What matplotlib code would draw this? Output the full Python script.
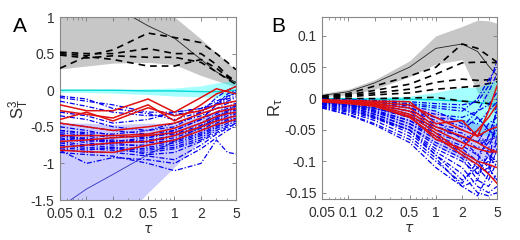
import matplotlib
matplotlib.use("Agg")
import matplotlib.pyplot as plt
import numpy as np
from matplotlib.ticker import FixedLocator, NullFormatter, LogLocator

plt.rcParams['font.family'] = ['Liberation Sans', 'DejaVu Sans']

tau = [0.05, 0.1, 0.2, 0.5, 1, 2, 3, 4, 5]
xticks = [0.05, 0.1, 0.2, 0.5, 1, 2, 5]
xticklabels = ['0.05', '0.1', '0.2', '0.5', '1', '2', '5']

# ---------------- Panel A data ----------------
A_gray_hi = [1.6, 1.5, 1.4, 1.2, 1.0, 0.70, 0.51, 0.38, 0.27]
A_gray_lo = [0.29, 0.33, 0.37, 0.38, 0.35, 0.20, 0.13, 0.08, 0.05]
A_black_solid = [1.6, 1.4, 1.15, 0.88, 0.71, 0.42, 0.25, 0.16, 0.11]
A_black_dash = [
    [0.50, 0.47, 0.55, 0.78, 0.72, 0.65, 0.50, 0.38, 0.28],
    [0.52, 0.50, 0.50, 0.57, 0.50, 0.50, 0.35, 0.20, 0.12],
    [0.30, 0.46, 0.42, 0.33, 0.33, 0.42, 0.30, 0.18, 0.10],
    [0.48, 0.44, 0.47, 0.45, 0.45, 0.38, 0.25, 0.15, 0.08],
]
A_cyan_line = [0.0, 0.0, 0.0, -0.01, -0.01, -0.02, -0.02, -0.01, 0.0]
A_cyan_hi = [0.01, 0.01, 0.01, 0.02, 0.03, 0.06, 0.10, 0.12, 0.14]
A_cyan_lo = [-0.03, -0.03, -0.04, -0.06, -0.08, -0.09, -0.10, -0.08, -0.05]
A_lav_hi = [-0.45, -0.45, -0.47, -0.45, -0.45, -0.35, -0.28, -0.22, -0.20]
A_lav_lo = [-2.5, -2.2, -1.9, -1.4, -1.05, -0.68, -0.55, -0.48, -0.42]
A_blue_solid = [-1.6, -1.35, -1.15, -0.88, -0.70, -0.50, -0.38, -0.28, -0.20]
A_blue = [
    [-0.10, -0.15, -0.20, -0.30, -0.30, -0.25, -0.15, -0.08, -0.05],
    [-0.15, -0.22, -0.30, -0.35, -0.33, -0.28, -0.20, -0.12, -0.08],
    [-0.30, -0.35, -0.45, -0.40, -0.30, -0.25, -0.20, -0.15, -0.10],
    [-0.35, -0.40, -0.50, -0.55, -0.45, -0.35, -0.25, -0.18, -0.15],
    [-0.45, -0.50, -0.55, -0.60, -0.55, -0.40, -0.30, -0.22, -0.18],
    [-0.50, -0.55, -0.62, -0.65, -0.58, -0.45, -0.32, -0.25, -0.20],
    [-0.55, -0.60, -0.65, -0.62, -0.60, -0.48, -0.35, -0.28, -0.22],
    [-0.58, -0.62, -0.70, -0.68, -0.62, -0.50, -0.38, -0.30, -0.25],
    [-0.60, -0.68, -0.72, -0.70, -0.65, -0.52, -0.40, -0.32, -0.27],
    [-0.62, -0.70, -0.68, -0.72, -0.68, -0.55, -0.42, -0.35, -0.30],
    [-0.65, -0.72, -0.75, -0.75, -0.70, -0.58, -0.45, -0.38, -0.32],
    [-0.68, -0.65, -0.72, -0.78, -0.72, -0.60, -0.48, -0.40, -0.35],
    [-0.70, -0.75, -0.78, -0.80, -0.75, -0.62, -0.50, -0.42, -0.38],
    [-0.72, -0.78, -0.80, -0.82, -0.78, -0.65, -0.52, -0.45, -0.40],
    [-0.75, -0.80, -0.82, -0.85, -0.80, -0.68, -0.55, -0.48, -0.42],
    [-0.78, -0.82, -0.78, -0.88, -0.85, -0.70, -0.58, -0.50, -0.45],
    [-0.80, -0.85, -0.85, -0.90, -0.95, -0.75, -0.60, -0.52, -0.45],
    [-0.82, -1.00, -0.92, -0.95, -1.00, -0.80, -0.65, -0.55, -0.48],
    [-0.85, -0.88, -0.90, -1.00, -1.10, -1.00, -0.68, -0.85, -0.87],
    [-0.55, -0.58, -0.60, -0.55, -0.50, -0.30, -0.10, 0.00, 0.05],
    [-0.62, -0.66, -0.70, -0.65, -0.55, -0.40, -0.20, -0.05, 0.00],
    [-0.08, -0.12, -0.25, -0.32, -0.40, -0.30, -0.18, -0.10, -0.02],
]
A_red = [
    [-0.20, -0.28, -0.28, -0.12, -0.30, -0.10, 0.02, -0.02, -0.05],
    [-0.28, -0.33, -0.38, -0.20, -0.42, -0.20, -0.05, 0.00, 0.05],
    [-0.40, -0.30, -0.42, -0.24, -0.35, -0.28, -0.20, -0.17, -0.15],
    [-0.45, -0.50, -0.55, -0.50, -0.45, -0.32, -0.25, -0.22, -0.20],
    [-0.62, -0.62, -0.62, -0.60, -0.52, -0.38, -0.30, -0.27, -0.25],
    [-0.70, -0.68, -0.65, -0.62, -0.58, -0.45, -0.36, -0.32, -0.30],
    [-0.78, -0.75, -0.72, -0.70, -0.62, -0.50, -0.42, -0.38, -0.35],
    [-0.82, -0.84, -0.85, -0.75, -0.68, -0.55, -0.47, -0.43, -0.40],
]
A_yticks = [-1.5, -1, -0.5, 0, 0.5, 1]
A_yticklabels = ['-1.5', '-1', '-0.5', '0', '0.5', '1']

# ---------------- Panel B data ----------------
B_gray_hi = [0.008, 0.015, 0.030, 0.060, 0.100, 0.115, 0.125, 0.124, 0.120]
B_gray_lo = [0.003, 0.006, 0.015, 0.035, 0.055, 0.062, 0.010, -0.015, -0.025]
B_black_solid = [0.005, 0.011, 0.025, 0.050, 0.080, 0.087, 0.075, 0.052, 0.037]
B_black_dash = [
    [0.004, 0.008, 0.020, 0.036, 0.050, 0.087, 0.080, 0.068, 0.058],
    [0.003, 0.006, 0.013, 0.023, 0.039, 0.057, 0.058, 0.058, 0.057],
    [0.002, 0.005, 0.009, 0.015, 0.026, 0.031, 0.029, 0.030, 0.031],
    [0.001, 0.003, 0.006, 0.009, 0.015, 0.018, 0.020, 0.024, 0.027],
    [0.000, 0.000, 0.000, 0.001, 0.002, -0.004, -0.006, -0.008, -0.009],
]
B_cyan_line = [0.0, 0.0, -0.001, -0.001, -0.002, -0.004, -0.006, -0.008, -0.009]
B_cyan_hi = [0.000, 0.001, 0.002, 0.004, 0.010, 0.018, 0.018, 0.024, 0.030]
B_cyan_lo = [-0.003, -0.005, -0.007, -0.010, -0.020, -0.040, -0.055, -0.060, -0.060]
B_lav_hi = [-0.002, -0.004, -0.006, -0.010, -0.020, -0.035, -0.040, -0.040, -0.040]
B_lav_lo = [-0.012, -0.020, -0.030, -0.050, -0.075, -0.098, -0.100, -0.095, -0.085]
B_blue_solid = [-0.006, -0.010, -0.016, -0.028, -0.045, -0.062, -0.068, -0.066, -0.062]
B_blue = [
    [-0.001, -0.002, -0.003, -0.005, -0.008, -0.010, -0.005, 0.020, 0.060],
    [-0.002, -0.003, -0.005, -0.010, -0.015, -0.020, 0.000, 0.030, 0.050],
    [-0.002, -0.004, -0.008, -0.015, -0.025, -0.030, -0.020, -0.010, 0.010],
    [-0.003, -0.005, -0.010, -0.020, -0.030, -0.035, -0.040, -0.020, -0.005],
    [-0.003, -0.006, -0.012, -0.025, -0.040, -0.050, -0.030, -0.050, -0.060],
    [-0.004, -0.007, -0.015, -0.030, -0.045, -0.055, -0.070, -0.040, -0.030],
    [-0.004, -0.008, -0.015, -0.030, -0.050, -0.060, -0.080, -0.060, -0.020],
    [-0.005, -0.009, -0.018, -0.035, -0.055, -0.070, -0.050, -0.080, -0.090],
    [-0.005, -0.010, -0.020, -0.035, -0.060, -0.075, -0.090, -0.070, -0.050],
    [-0.006, -0.010, -0.020, -0.040, -0.060, -0.080, -0.100, -0.120, -0.080],
    [-0.006, -0.011, -0.022, -0.040, -0.065, -0.085, -0.110, -0.100, -0.070],
    [-0.007, -0.012, -0.025, -0.045, -0.070, -0.090, -0.120, -0.090, -0.100],
    [-0.008, -0.013, -0.025, -0.045, -0.075, -0.095, -0.130, -0.140, -0.120],
    [-0.008, -0.014, -0.028, -0.050, -0.080, -0.100, -0.120, -0.110, -0.060],
    [-0.009, -0.016, -0.030, -0.050, -0.085, -0.110, -0.140, -0.150, -0.140],
    [-0.010, -0.018, -0.030, -0.055, -0.090, -0.120, -0.150, -0.155, -0.150],
    [-0.012, -0.020, -0.032, -0.050, -0.090, -0.130, -0.110, -0.130, -0.100],
    [-0.013, -0.022, -0.035, -0.060, -0.095, -0.140, -0.130, -0.080, -0.040],
    [-0.014, -0.025, -0.040, -0.065, -0.100, -0.135, -0.100, -0.060, -0.020],
    [-0.015, -0.026, -0.042, -0.070, -0.110, -0.140, -0.155, -0.120, 0.000],
    [-0.002, -0.004, -0.006, -0.012, -0.020, -0.040, -0.060, -0.090, -0.110],
    [-0.003, -0.005, -0.008, -0.015, -0.030, -0.045, -0.020, 0.010, 0.040],
    [-0.004, -0.006, -0.010, -0.020, -0.035, -0.065, -0.090, -0.110, -0.130],
    [-0.001, -0.002, -0.004, -0.008, -0.012, -0.015, -0.030, -0.050, -0.065],
]
B_red = [
    [-0.002, -0.003, -0.004, -0.005, -0.040, -0.035, -0.060, -0.020, 0.020],
    [-0.002, -0.004, -0.006, -0.010, -0.030, -0.050, -0.060, -0.050, -0.045],
    [-0.003, -0.005, -0.008, -0.015, -0.045, -0.060, -0.070, -0.080, -0.085],
    [-0.003, -0.005, -0.009, -0.020, -0.050, -0.070, -0.080, -0.085, -0.085],
    [-0.004, -0.006, -0.010, -0.025, -0.055, -0.085, -0.100, -0.105, -0.110],
    [-0.004, -0.007, -0.012, -0.030, -0.060, -0.090, -0.105, -0.120, -0.135],
    [-0.005, -0.008, -0.012, -0.028, -0.065, -0.080, -0.050, -0.030, -0.010],
]
B_yticks = [-0.15, -0.1, -0.05, 0, 0.05, 0.1]
B_yticklabels = ['-0.15', '-0.1', '-0.05', '0', '0.05', '0.1']

BLUE = '#0000ee'
RED = '#e01010'
TXT = '#303030'


def draw(ax, gray_hi, gray_lo, black_solid, black_dash, cyan_line, cyan_hi, cyan_lo,
         lav_hi, lav_lo, blue_solid, blues, reds, ylim, yticks, yticklabels):
    ax.fill_between(tau, gray_lo, gray_hi, color='black', alpha=0.22, lw=0, zorder=1)
    ax.fill_between(tau, cyan_lo, cyan_hi, color='cyan', alpha=0.35, lw=0, zorder=1)
    ax.fill_between(tau, lav_lo, lav_hi, color='blue', alpha=0.2, lw=0, zorder=1)
    ax.plot(tau, black_solid, color='#222222', lw=0.6, zorder=2)
    ax.plot(tau, blue_solid, color='#3030c0', lw=0.6, zorder=2)
    ax.plot(tau, cyan_line, color='#00d8d8', lw=1.0, zorder=2)
    for y in black_dash:
        ax.plot(tau, y, color='black', lw=1.2, dashes=(4, 3), zorder=3)
    for y in blues:
        ax.plot(tau, y, color=BLUE, lw=0.9, dashes=(4, 1.5, 1, 1.5), zorder=3)
    for y in reds:
        ax.plot(tau, y, color=RED, lw=1.1, zorder=4)
    ax.set_xscale('log')
    ax.set_xlim(0.05, 5)
    ax.set_ylim(*ylim)
    ax.xaxis.set_major_locator(FixedLocator(xticks))
    ax.set_xticklabels(xticklabels)
    ax.xaxis.set_minor_locator(LogLocator(base=10, subs=np.arange(2, 10)))
    ax.xaxis.set_minor_formatter(NullFormatter())
    ax.set_yticks(yticks)
    ax.set_yticklabels(yticklabels)
    ax.tick_params(which='both', direction='in', top=True, right=True,
                   labelsize=10, colors='#777777', labelcolor=TXT)
    ax.tick_params(axis='x', pad=5)
    ax.tick_params(axis='y', pad=4)
    ax.tick_params(which='major', length=3, width=0.6)
    ax.tick_params(which='minor', length=1.8, width=0.5)
    for s in ax.spines.values():
        s.set_color('#888888')
        s.set_linewidth(0.8)
    ax.set_xlabel(r'$\tau$', fontsize=10, color=TXT, labelpad=1)


fig = plt.figure(figsize=(5.2, 2.4), dpi=100)
axA = fig.add_axes([60 / 520, 1 - 200 / 240, 176 / 520, 183 / 240])
axB = fig.add_axes([322 / 520, 1 - 199 / 240, 175 / 520, 182 / 240])

draw(axA, A_gray_hi, A_gray_lo, A_black_solid, A_black_dash, A_cyan_line, A_cyan_hi,
     A_cyan_lo, A_lav_hi, A_lav_lo, A_blue_solid, A_blue, A_red, (-1.5, 1),
     A_yticks, A_yticklabels)
draw(axB, B_gray_hi, B_gray_lo, B_black_solid, B_black_dash, B_cyan_line, B_cyan_hi,
     B_cyan_lo, B_lav_hi, B_lav_lo, B_blue_solid, B_blue, B_red, (-0.16, 0.13),
     B_yticks, B_yticklabels)

axA.set_ylabel(r'$\mathregular{S^3_T}$', fontsize=12, color=TXT, labelpad=0)
axB.set_ylabel(r'$\mathregular{R_\tau}$', fontsize=12, color=TXT, labelpad=0)

fig.text(20 / 520, 1 - 27 / 240, 'A', fontsize=15, ha='center', va='center', color='black')
fig.text(278 / 520, 1 - 27 / 240, 'B', fontsize=15, ha='center', va='center', color='black')

fig.savefig('out.png', dpi=100)
